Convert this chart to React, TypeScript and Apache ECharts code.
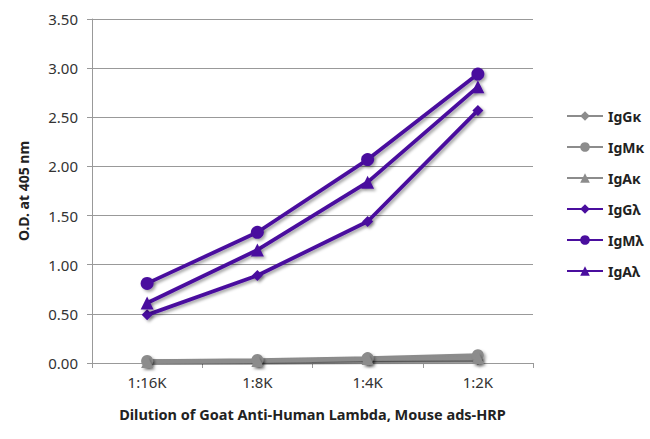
import React, { useEffect, useRef } from "react";
import * as echarts from "echarts";

const categories = ["1:16K", "1:8K", "1:4K", "1:2K"];
const seriesNames = ["IgGκ", "IgMκ", "IgAκ", "IgGλ", "IgMλ", "IgAλ"];
const igGk = [0.02, 0.02, 0.03, 0.03];
const igMk = [0.02, 0.03, 0.05, 0.08];
const igAk = [0.01, 0.02, 0.04, 0.05];
const igGl = [0.49, 0.89, 1.44, 2.57];
const igMl = [0.81, 1.33, 2.07, 2.94];
const igAl = [0.61, 1.15, 1.84, 2.81];

const GREY = "#8c8c8c";
const PURPLE = "#4a0e9e";
const FONT = "'Noto Sans', 'Open Sans', sans-serif";

export default function App() {
  const ref = useRef<HTMLDivElement>(null);
  useEffect(() => {
    if (!ref.current) return;
    const chart = echarts.init(ref.current, null, { renderer: "svg" });
    const data = [igGk, igMk, igAk, igGl, igMl, igAl];
    const symbols = ["diamond", "circle", "triangle", "diamond", "circle", "triangle"];
    const sizes = [11, 12, 12, 11, 13, 13];
    const series = seriesNames.map((name, i) => {
      const color = i < 3 ? GREY : PURPLE;
      return {
        name,
        type: "line",
        data: data[i],
        symbol: symbols[i],
        symbolSize: sizes[i],
        showSymbol: true,
        itemStyle: {
          color,
          shadowColor: "rgba(0,0,0,0.35)",
          shadowBlur: 3,
          shadowOffsetX: 2,
          shadowOffsetY: 2,
        },
        lineStyle: {
          color,
          width: 3.8,
          shadowColor: "rgba(0,0,0,0.35)",
          shadowBlur: 3,
          shadowOffsetX: 2,
          shadowOffsetY: 2,
        },
        z: i < 3 ? 2 : 3,
      };
    });
    chart.setOption({
      animation: false,
      backgroundColor: "#ffffff",
      grid: { left: 92, right: 117, top: 19, bottom: 76 },
      legend: {
        orient: "vertical",
        left: 561,
        top: 104,
        itemWidth: 36,
        itemHeight: 12,
        itemGap: 17,
        data: seriesNames,
        textStyle: { fontFamily: FONT, fontWeight: "bold", fontSize: 14, color: "#222" },
      },
      xAxis: {
        type: "category",
        data: categories,
        boundaryGap: true,
        name: "Dilution of Goat Anti-Human Lambda, Mouse ads-HRP",
        nameLocation: "middle",
        nameGap: 43,
        nameTextStyle: { fontFamily: FONT, fontWeight: "bold", fontSize: 14.5, color: "#222" },
        axisLine: { lineStyle: { color: "#999", width: 1 } },
        axisTick: { show: true, alignWithLabel: false, length: 5, lineStyle: { color: "#999" } },
        axisLabel: { fontFamily: FONT, fontSize: 15, color: "#333", margin: 11 },
      },
      yAxis: {
        type: "value",
        min: 0,
        max: 3.5,
        interval: 0.5,
        name: "O.D. at 405 nm",
        nameLocation: "middle",
        nameGap: 62,
        nameTextStyle: { fontFamily: FONT, fontWeight: "bold", fontSize: 14, color: "#222" },
        axisLine: { show: true, lineStyle: { color: "#999", width: 1 } },
        axisTick: { show: true, length: 5, lineStyle: { color: "#999" } },
        splitLine: { show: true, lineStyle: { color: "#999", width: 1 } },
        axisLabel: {
          fontFamily: FONT,
          fontSize: 15,
          color: "#333",
          margin: 14,
          formatter: (v: number) => v.toFixed(2),
        },
      },
      series,
    });
    return () => chart.dispose();
  }, []);
  return <div ref={ref} style={{ width: 650, height: 439, position: "absolute", left: 0, top: 0 }} />;
}
